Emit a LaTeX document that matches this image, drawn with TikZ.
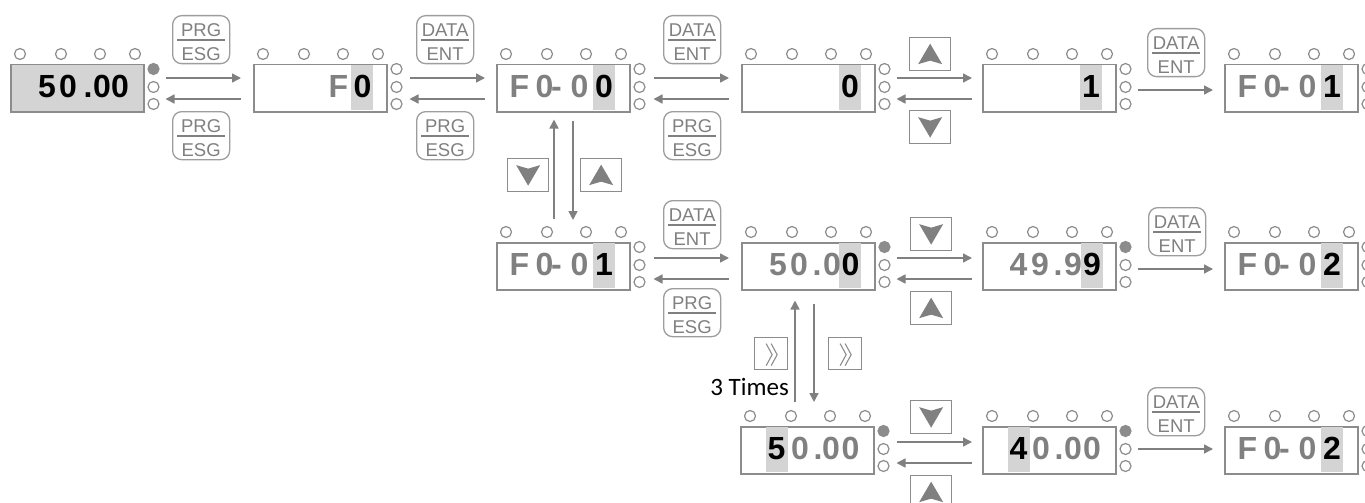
\documentclass[tikz,border=0pt]{standalone}
\usepackage{fontspec}
\setmainfont{Liberation Sans}
\newfontfamily\carl{Carlito}
\usetikzlibrary{calc,arrows.meta}
\definecolor{ln}{HTML}{8C8C8C}
\definecolor{dg}{HTML}{808080}
\definecolor{hl}{HTML}{D4D4D4}
\definecolor{ledf}{HTML}{8C8C8C}
\tikzset{
 dispbox/.style={draw=ln,line width=1.5pt,minimum width=133pt,minimum height=47pt,inner sep=0pt,anchor=north west},
 ledc/.style={draw=ln,line width=1.2pt},
 digit/.style={font=\fontsize{32}{32}\selectfont\bfseries,inner sep=0pt,anchor=base},
 keybox/.style={draw=ln!85,line width=1.3pt,rounded corners=9pt,minimum width=57pt,minimum height=48pt,inner sep=0pt,anchor=north west},
 sqkey/.style={draw=ln,line width=1.3pt,minimum width=41pt,minimum height=33pt,inner sep=0pt,anchor=north west},
 chkey/.style={draw=ln,line width=1.3pt,minimum width=33pt,minimum height=32pt,inner sep=0pt,anchor=north west},
 keytext/.style={font=\fontsize{18.5}{18.5}\selectfont,text=dg,inner sep=0pt,anchor=base},
 flow/.style={draw=dg,line width=1.5pt,-{Triangle[length=9pt,width=9pt]}},
}
% display: name, x, y, box fill, top side led fill, highlight offset
\newcommand\disp[6]{%
 \node[dispbox,fill=#4] (#1) at (#2,#3) {};
 \fill[hl] ($(#1.north west)+(#6,0.75)$) rectangle ($(#1.north west)+(#6+22,46.25)$);
 \foreach \o in {10,51,90,125} \draw[ledc,fill=white] ($(#1.north west)+(\o,-10)$) circle[radius=5.5pt];
 \draw[ledc,fill=#5] ($(#1.north east)+(9,5)$) circle[radius=5.5pt];
 \draw[ledc,fill=white] ($(#1.north east)+(9,23)$) circle[radius=5.5pt];
 \draw[ledc,fill=white] ($(#1.north east)+(9,40)$) circle[radius=5.5pt];
}
\newcommand\chars[2]{%
 \foreach \o/\c/\k [count=\i] in {#2} \node[digit,text=\k] (#1c\i) at ($(#1.north west)+(\o,33.5)$) {\c};
}
\newcommand\keytwo[5]{%
 \node[keybox] (#1) at (#2,#3) {};
 \node[keytext] (#1t) at ($(#1.north)+(0,21.5)$) {#4};
 \draw[dg,line width=1.2pt] ($(#1.north west)+(5,25)$) -- ($(#1.north east)+(-5,25)$);
 \node[keytext] (#1b) at ($(#1.north)+(0,45.5)$) {#5};
}
\newcommand\trikey[4]{%
 \node[sqkey] (#1) at (#2,#3) {};
 \fill[dg] ($(#1.center)+(0,-10.5*#4)$) -- ($(#1.center)+(12,10*#4)$) -- ($(#1.center)+(0,6.5*#4)$) -- ($(#1.center)+(-12,10*#4)$) -- cycle;
}
\newcommand\chkey[3]{%
 \node[chkey] (#1) at (#2,#3) {};
 \draw[dg!90,line width=1.1pt] ($(#1.center)+(-5,-10)$) -- ($(#1.center)+(1,1)$) -- ($(#1.center)+(-5,12)$);
 \draw[dg!90,line width=1.1pt] ($(#1.center)+(0,-10)$) -- ($(#1.center)+(6,1)$) -- ($(#1.center)+(0,12)$);
}
\begin{document}
\begin{tikzpicture}[x=1pt,y=-1pt]
\useasboundingbox (0,0) rectangle (1365,503);
\fill[white] (0,0) rectangle (1365,503);
% row 1
\disp{a1}{10}{64}{hl}{ledf}{98}
\chars{a1}{37/5/black,58/0/black,78/./black,92/0/black,110/0/black}
\disp{a2}{253}{64}{white}{white}{98}
\chars{a2}{85.5/F/dg,109.5/0/black}
\disp{a3}{496}{64}{white}{white}{97}
\chars{a3}{23.5/F/dg,48.5/0/dg,60.5/-/dg,83.5/0/dg,108/0/black}
\disp{a4}{741}{64}{white}{white}{98}
\chars{a4}{109/0/black}
\disp{a5}{982}{64}{white}{white}{98}
\chars{a5}{109/1/black}
\disp{a6}{1224}{64}{white}{white}{97}
\chars{a6}{23.5/F/dg,48.5/0/dg,60.5/-/dg,83.5/0/dg,108/1/black}
% row 2
\disp{b1}{496}{242}{white}{white}{97}
\chars{b1}{23.5/F/dg,48.5/0/dg,60.5/-/dg,83.5/0/dg,108/1/black}
\disp{b2}{741}{242}{white}{ledf}{98}
\chars{b2}{37/5/dg,58/0/dg,76/./dg,91/0/dg,109.5/0/black}
\disp{b3}{982}{242}{white}{ledf}{99}
\chars{b3}{36.5/4/dg,58/9/dg,76/./dg,91/9/dg,110/9/black}
\disp{b4}{1224}{242}{white}{white}{97}
\chars{b4}{23.5/F/dg,48.5/0/dg,60.5/-/dg,83.5/0/dg,108/2/black}
% row 3
\disp{c1}{740}{426}{white}{ledf}{26}
\chars{c1}{36.5/5/black,60/0/dg,78/./dg,91/0/dg,110.5/0/dg}
\disp{c2}{982}{426}{white}{ledf}{26}
\chars{c2}{36.5/4/black,59/0/dg,77/./dg,91/0/dg,110/0/dg}
\disp{c3}{1224}{426}{white}{white}{97}
\chars{c3}{23.5/F/dg,48.5/0/dg,60.5/-/dg,83.5/0/dg,108/2/black}
% keys row 1
\keytwo{k1}{172}{15}{PRG}{ESG}
\keytwo{k1b}{172}{111}{PRG}{ESG}
\keytwo{k2}{416}{15}{DATA}{ENT}
\keytwo{k2b}{416}{111}{PRG}{ESG}
\keytwo{k3}{663}{15}{DATA}{ENT}
\keytwo{k3b}{663}{111}{PRG}{ESG}
\trikey{k4}{909}{37}{1}
\trikey{k4b}{909}{110}{-1}
\keytwo{k5}{1147}{28}{DATA}{ENT}
\trikey{v1}{507}{158}{-1}
\trikey{v2}{580}{158}{1}
% keys row 2
\keytwo{m1}{663}{200}{DATA}{ENT}
\keytwo{m1b}{663}{288}{PRG}{ESG}
\trikey{m2}{910}{217}{-1}
\trikey{m2b}{910}{291}{1}
\keytwo{m3}{1148}{207}{DATA}{ENT}
\chkey{w1}{754}{337}
\chkey{w2}{828}{337}
\node[font=\carl\fontsize{25}{25}\selectfont,anchor=base east,inner sep=0pt] (times) at (789,395) {3 Times};
% keys row 3
\trikey{n1}{910}{400}{-1}
\trikey{n1b}{910}{475}{1}
\keytwo{n2}{1147}{387}{DATA}{ENT}
% arrows row 1
\draw[flow] ($(a1.north east)+(21,14)$) -- ($(a2.north west)+(-12,14)$);
\draw[flow] ($(a2.north west)+(-12,35)$) -- ($(a1.north east)+(21,35)$);
\draw[flow] ($(a2.north east)+(22,14)$) -- ($(a3.north west)+(-11,14)$);
\draw[flow] ($(a3.north west)+(-11,35)$) -- ($(a2.north east)+(22,35)$);
\draw[flow] ($(a3.north east)+(23,14)$) -- ($(a4.north west)+(-12,14)$);
\draw[flow] ($(a4.north west)+(-12,35)$) -- ($(a3.north east)+(23,35)$);
\draw[flow] ($(a4.north east)+(21,14)$) -- ($(a5.north west)+(-10,14)$);
\draw[flow] ($(a5.north west)+(-10,35)$) -- ($(a4.north east)+(21,35)$);
\draw[flow] ($(a5.north east)+(21,26)$) -- ($(a6.north west)+(-11,26)$);
% vertical a3-b1
\draw[flow] ($(b1.north west)+(58,-23)$) -- ($(a3.south west)+(58,7)$);
\draw[flow] ($(a3.south west)+(77,8)$) -- ($(b1.north west)+(77,-22)$);
% arrows row 2
\draw[flow] ($(b1.north east)+(23,16)$) -- ($(b2.north west)+(-12,16)$);
\draw[flow] ($(b2.north west)+(-12,37)$) -- ($(b1.north east)+(23,37)$);
\draw[flow] ($(b2.north east)+(21,16)$) -- ($(b3.north west)+(-10,16)$);
\draw[flow] ($(b3.north west)+(-10,37)$) -- ($(b2.north east)+(21,37)$);
\draw[flow] ($(b3.north east)+(21,27)$) -- ($(b4.north west)+(-11,27)$);
% vertical b2-c1
\draw[flow] ($(c1.north west)+(55,-24)$) -- ($(b2.south west)+(54,10)$);
\draw[flow] ($(b2.south west)+(73,13)$) -- ($(c1.north west)+(74,-24)$);
% arrows row 3
\draw[flow] ($(c1.north east)+(22,16)$) -- ($(c2.north west)+(-10,16)$);
\draw[flow] ($(c2.north west)+(-10,37)$) -- ($(c1.north east)+(22,37)$);
\draw[flow] ($(c2.north east)+(21,23)$) -- ($(c3.north west)+(-11,23)$);
\end{tikzpicture}
\end{document}
